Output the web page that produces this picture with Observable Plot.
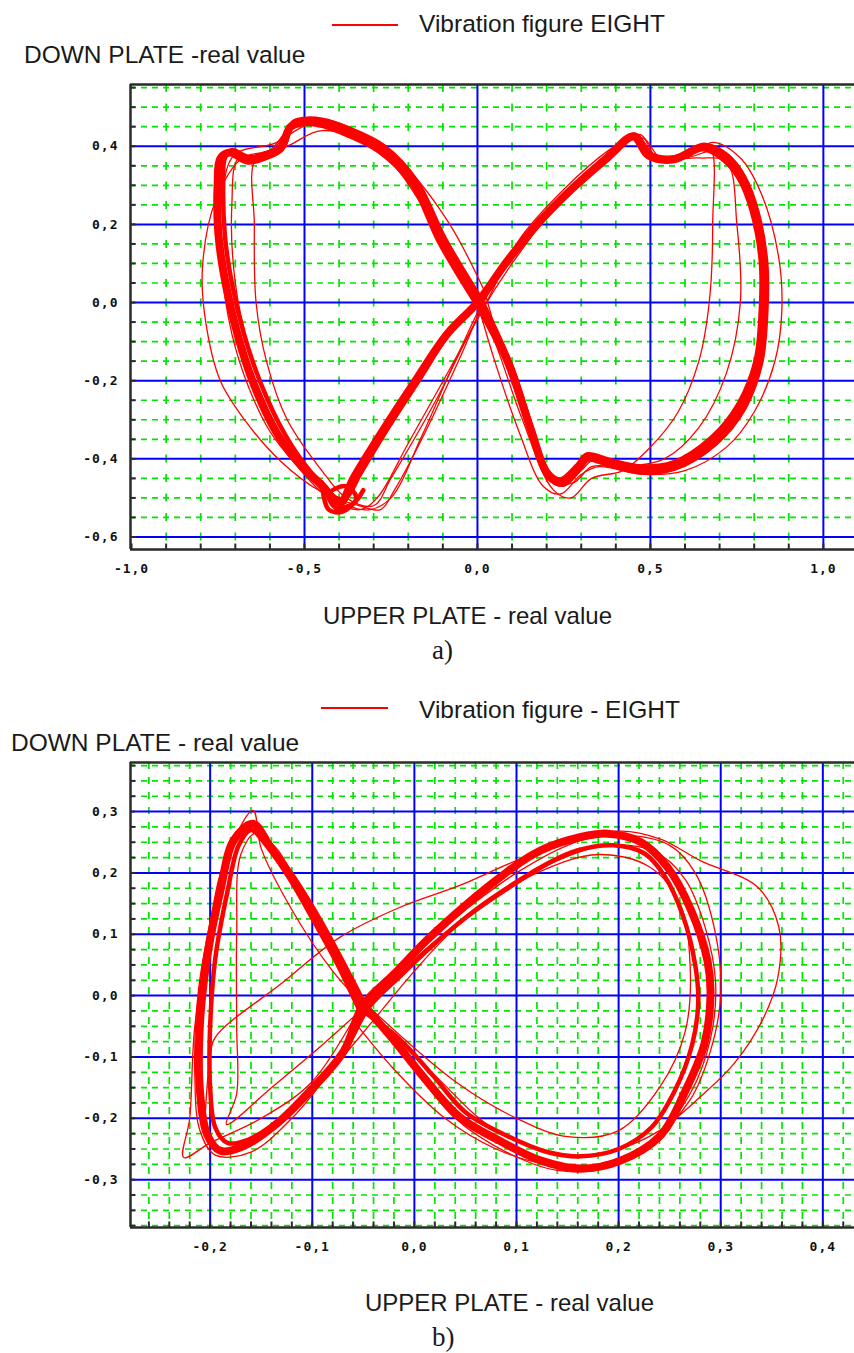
<!DOCTYPE html>
<html><head><meta charset="utf-8">
<script src="https://cdn.jsdelivr.net/npm/d3@7"></script>
<script src="https://cdn.jsdelivr.net/npm/@observablehq/plot@0.6"></script>
<style>
body{margin:0;background:#fff;width:854px;height:1353px;position:relative;overflow:hidden;font-family:"Liberation Sans",Arial,sans-serif;}
.t{position:absolute;white-space:nowrap;color:#1a1a1a;line-height:1;z-index:2;}
.lg{position:absolute;height:2px;background:#ff0000;z-index:2;}
.panel{position:absolute;left:0;z-index:1;}
.serif{font-family:"Liberation Serif","DejaVu Serif",serif;}
svg text{letter-spacing:1px;}
</style></head><body>
<div class="lg" style="left:332px;top:24px;width:66px;"></div>
<div class="t" style="left:419px;top:12px;font-size:24.5px;">Vibration figure EIGHT</div>
<div class="t" style="left:24px;top:43px;font-size:24.5px;">DOWN PLATE -real value</div>
<div class="panel" id="pa" style="top:70px;"></div>
<div class="t" style="left:323px;top:604px;font-size:24px;">UPPER PLATE - real value</div>
<div class="t serif" style="left:432px;top:637px;font-size:27px;">a)</div>

<div class="lg" style="left:321px;top:707px;width:67px;"></div>
<div class="t" style="left:419px;top:698px;font-size:24.5px;">Vibration figure - EIGHT</div>
<div class="t" style="left:11px;top:731px;font-size:24.5px;">DOWN PLATE - real value</div>
<div class="panel" id="pb" style="top:750px;"></div>
<div class="t" style="left:365px;top:1291px;font-size:24px;">UPPER PLATE - real value</div>
<div class="t serif" style="left:432px;top:1324px;font-size:27px;">b)</div>
<script>
// ---------- Panel a data (x = UPPER PLATE, y = DOWN PLATE) ----------
const xTickLabelsA = [-1.0, -0.5, 0.0, 0.5, 1.0];
const yTickLabelsA = [-0.6, -0.4, -0.2, 0.0, 0.2, 0.4];
const aMain = [[0,0],[-0.107,0.158],[-0.185,0.304],[-0.280,0.389],[-0.376,0.433],[-0.454,0.458],[-0.503,0.461],[-0.540,0.450],[-0.569,0.395],[-0.607,0.376],[-0.665,0.363],[-0.715,0.384],[-0.743,0.369],[-0.751,0.304],[-0.749,0.176],[-0.728,0.048],[-0.694,-0.080],[-0.647,-0.208],[-0.578,-0.337],[-0.503,-0.424],[-0.454,-0.465],[-0.425,-0.495],[-0.396,-0.512],[-0.358,-0.449],[-0.280,-0.337],[-0.185,-0.208],[-0.087,-0.080],[0,0],[0.087,0.107],[0.182,0.209],[0.277,0.294],[0.376,0.371],[0.451,0.425],[0.495,0.376],[0.566,0.366],[0.653,0.397],[0.711,0.371],[0.760,0.320],[0.798,0.235],[0.824,0.107],[0.824,-0.021],[0.809,-0.150],[0.760,-0.260],[0.682,-0.347],[0.566,-0.414],[0.471,-0.424],[0.376,-0.406],[0.318,-0.393],[0.292,-0.419],[0.240,-0.457],[0.202,-0.437],[0.153,-0.321],[0.087,-0.150],[0,0]];
const aMain2 = [[0.01,0.01],[-0.095,0.165],[-0.175,0.31],[-0.27,0.40],[-0.37,0.445],[-0.45,0.468],[-0.5,0.47],[-0.535,0.46],[-0.56,0.40],[-0.6,0.385],[-0.66,0.372],[-0.71,0.39],[-0.73,0.37],[-0.735,0.3],[-0.73,0.17],[-0.71,0.05],[-0.675,-0.08],[-0.625,-0.21],[-0.555,-0.34],[-0.485,-0.43],[-0.44,-0.47],[-0.41,-0.5],[-0.38,-0.5],[-0.34,-0.44],[-0.265,-0.33],[-0.17,-0.2],[-0.075,-0.07],[0.01,0.01],[0.095,0.115],[0.19,0.215],[0.285,0.3],[0.38,0.378],[0.455,0.43],[0.5,0.38],[0.57,0.372],[0.655,0.404],[0.72,0.378],[0.772,0.32],[0.81,0.23],[0.835,0.1],[0.835,-0.025],[0.82,-0.155],[0.772,-0.27],[0.69,-0.36],[0.57,-0.425],[0.47,-0.434],[0.375,-0.415],[0.32,-0.402],[0.292,-0.43],[0.245,-0.466],[0.205,-0.445],[0.16,-0.33],[0.095,-0.155],[0.01,0.01]];
const aKnot = [[-0.45,-0.46],[-0.43,-0.53],[-0.39,-0.535],[-0.35,-0.5],[-0.38,-0.47],[-0.43,-0.49],[-0.41,-0.525],[-0.36,-0.515],[-0.33,-0.48]];
const aThin1 = [[0,0],[-0.1,0.17],[-0.2,0.31],[-0.3,0.4],[-0.4,0.45],[-0.5,0.465],[-0.55,0.44],[-0.6,0.39],[-0.68,0.37],[-0.757,0.261],[-0.795,0.089],[-0.786,-0.047],[-0.743,-0.201],[-0.671,-0.303],[-0.569,-0.406],[-0.454,-0.483],[-0.338,-0.521],[-0.28,-0.53],[-0.24,-0.48],[-0.15,-0.33],[-0.05,-0.14],[0.03,0.02],[0.12,0.14],[0.22,0.25],[0.33,0.34],[0.45,0.42],[0.5,0.38],[0.6,0.37],[0.68,0.41],[0.76,0.37],[0.82,0.28],[0.87,0.12],[0.88,-0.02],[0.86,-0.15],[0.8,-0.28],[0.72,-0.37],[0.6,-0.43],[0.48,-0.44],[0.35,-0.42],[0.3,-0.44],[0.24,-0.49],[0.19,-0.47],[0.12,-0.33],[0.05,-0.15],[0,0]];
const aThin2 = [[0,0],[-0.15,0.25],[-0.3,0.4],[-0.45,0.44],[-0.55,0.40],[-0.64,0.37],[-0.645,0.2],[-0.64,0.0],[-0.61,-0.15],[-0.55,-0.3],[-0.45,-0.43],[-0.38,-0.5],[-0.3,-0.52],[-0.25,-0.45],[-0.12,-0.25],[0,-0.04],[0.1,0.1],[0.25,0.27],[0.4,0.38],[0.47,0.43],[0.52,0.37],[0.6,0.37],[0.67,0.4],[0.68,0.2],[0.67,0.0],[0.64,-0.15],[0.58,-0.28],[0.5,-0.37],[0.42,-0.43],[0.33,-0.45],[0.27,-0.5],[0.22,-0.48],[0.13,-0.3],[0.05,-0.1],[0,0]];
const aThin3 = [[0.02,0.03],[-0.08,0.2],[-0.2,0.34],[-0.33,0.43],[-0.45,0.47],[-0.52,0.46],[-0.58,0.41],[-0.7,0.38],[-0.735,0.3],[-0.74,0.1],[-0.71,-0.08],[-0.66,-0.22],[-0.6,-0.33],[-0.52,-0.42],[-0.43,-0.5],[-0.34,-0.53],[-0.29,-0.5],[-0.2,-0.36],[-0.08,-0.17],[0.02,-0.01],[0.12,0.16],[0.25,0.29],[0.38,0.39],[0.46,0.43],[0.51,0.38],[0.6,0.37],[0.7,0.39],[0.77,0.33],[0.81,0.2],[0.83,0.05],[0.82,-0.1],[0.78,-0.23],[0.7,-0.34],[0.58,-0.41],[0.45,-0.43],[0.34,-0.4],[0.3,-0.43],[0.25,-0.47],[0.2,-0.45],[0.14,-0.3],[0.08,-0.15],[0.02,0.03]];
const aThin4 = [[0,0.01],[-0.12,0.19],[-0.24,0.35],[-0.36,0.44],[-0.47,0.46],[-0.56,0.42],[-0.62,0.37],[-0.69,0.37],[-0.71,0.25],[-0.7,0.05],[-0.66,-0.12],[-0.6,-0.27],[-0.52,-0.39],[-0.44,-0.47],[-0.37,-0.52],[-0.31,-0.53],[-0.25,-0.5],[-0.16,-0.34],[-0.06,-0.14],[0.05,0.06],[0.16,0.2],[0.3,0.32],[0.42,0.41],[0.48,0.42],[0.53,0.37],[0.64,0.37],[0.72,0.36],[0.75,0.2],[0.76,0.0],[0.72,-0.18],[0.64,-0.32],[0.54,-0.4],[0.42,-0.42],[0.33,-0.42],[0.28,-0.46],[0.23,-0.46],[0.16,-0.33],[0.07,-0.12],[0,0.01]];

// ---------- Panel b data ----------
const xTickLabelsB = [-0.2, -0.1, 0.0, 0.1, 0.2, 0.3, 0.4];
const yTickLabelsB = [-0.3, -0.2, -0.1, 0.0, 0.1, 0.2, 0.3];
const bMain = [[-0.05,-0.015],[-0.069,0.046],[-0.092,0.117],[-0.118,0.188],[-0.141,0.242],[-0.158,0.28],[-0.177,0.253],[-0.19,0.171],[-0.203,0.062],[-0.21,-0.046],[-0.21,-0.155],[-0.203,-0.226],[-0.19,-0.253],[-0.167,-0.245],[-0.135,-0.209],[-0.102,-0.155],[-0.069,-0.09],[-0.05,-0.015],[-0.02,0.035],[0.012,0.09],[0.052,0.15],[0.084,0.193],[0.117,0.231],[0.15,0.253],[0.189,0.264],[0.222,0.25],[0.248,0.209],[0.271,0.139],[0.287,0.057],[0.29,0.003],[0.284,-0.079],[0.264,-0.16],[0.241,-0.228],[0.202,-0.269],[0.163,-0.282],[0.124,-0.269],[0.084,-0.237],[0.045,-0.199],[0.012,-0.139],[-0.02,-0.073],[-0.05,-0.015]];
const bMain2 = [[-0.055,-0.02],[-0.075,0.05],[-0.098,0.12],[-0.122,0.19],[-0.145,0.245],[-0.16,0.27],[-0.172,0.245],[-0.183,0.17],[-0.195,0.06],[-0.2,-0.05],[-0.2,-0.15],[-0.195,-0.215],[-0.183,-0.24],[-0.163,-0.235],[-0.13,-0.2],[-0.095,-0.145],[-0.065,-0.08],[-0.045,-0.02],[-0.015,0.03],[0.02,0.085],[0.06,0.14],[0.095,0.18],[0.13,0.215],[0.16,0.237],[0.195,0.245],[0.225,0.232],[0.245,0.195],[0.263,0.13],[0.275,0.05],[0.278,-0.01],[0.272,-0.08],[0.255,-0.155],[0.232,-0.215],[0.2,-0.25],[0.163,-0.262],[0.13,-0.255],[0.09,-0.228],[0.05,-0.19],[0.018,-0.13],[-0.015,-0.07],[-0.055,-0.02]];
const bThin1 = [[-0.05,-0.01],[0.0,0.07],[0.05,0.14],[0.1,0.2],[0.15,0.245],[0.2,0.268],[0.241,0.255],[0.28,0.22],[0.336,0.177],[0.357,0.111],[0.356,0.03],[0.342,-0.036],[0.313,-0.111],[0.28,-0.165],[0.24,-0.22],[0.2,-0.25],[0.15,-0.26],[0.08,-0.22],[0.02,-0.13],[-0.03,-0.05],[-0.08,0.04],[-0.12,0.14],[-0.15,0.24],[-0.158,0.302],[-0.18,0.24],[-0.2,0.1],[-0.215,-0.05],[-0.22,-0.2],[-0.226,-0.264],[-0.2,-0.24],[-0.15,-0.2],[-0.1,-0.14],[-0.05,-0.01]];
const bThin2 = [[-0.205,-0.2],[-0.2,-0.1],[-0.195,-0.068],[-0.13,0.02],[-0.073,0.095],[-0.014,0.144],[0.045,0.18],[0.1,0.22],[0.15,0.248],[0.2,0.262],[0.25,0.245],[0.275,0.2],[0.295,0.1],[0.3,0.0],[0.29,-0.09],[0.27,-0.17],[0.23,-0.24],[0.18,-0.275],[0.13,-0.275],[0.08,-0.25],[0.03,-0.2],[-0.02,-0.12],[-0.06,-0.04]];
const bThin3 = [[-0.05,-0.01],[-0.09,0.1],[-0.13,0.21],[-0.155,0.265],[-0.17,0.23],[-0.174,0.1],[-0.174,-0.05],[-0.174,-0.16],[-0.184,-0.21],[-0.14,-0.15],[-0.09,-0.08],[-0.05,-0.02],[0.0,0.06],[0.06,0.14],[0.12,0.2],[0.18,0.23],[0.23,0.21],[0.26,0.15],[0.27,0.05],[0.265,-0.06],[0.24,-0.15],[0.2,-0.22],[0.15,-0.23],[0.1,-0.2],[0.04,-0.14],[-0.05,-0.01]];
const bThin4 = [[-0.045,-0.02],[-0.075,0.06],[-0.105,0.15],[-0.135,0.24],[-0.16,0.27],[-0.185,0.22],[-0.2,0.12],[-0.212,0.0],[-0.215,-0.13],[-0.21,-0.22],[-0.195,-0.26],[-0.16,-0.255],[-0.12,-0.2],[-0.08,-0.12],[-0.04,-0.04],[0.0,0.04],[0.04,0.11],[0.09,0.17],[0.14,0.22],[0.19,0.245],[0.235,0.235],[0.265,0.19],[0.285,0.11],[0.295,0.02],[0.29,-0.07],[0.27,-0.16],[0.235,-0.235],[0.19,-0.28],[0.14,-0.285],[0.09,-0.255],[0.04,-0.2],[0.0,-0.12],[-0.045,-0.02]];

// ---------- helpers ----------
const RED = "#ff0000", GREEN = "#00e600", BLUE = "#0000ff", AX = "#2a2a2a";
const fmt = d => d.toFixed(1).replace(".", ",");
const toRows = (list) => list.flatMap(([id, pts]) => pts.map(([x, y]) => ({id, x, y})));
function idxRange(a, b) { const r = []; for (let i = a; i <= b; i++) r.push(i); return r; }

function panel({xDomain, yDomain, height, marginTop, xTickLabels, yTickLabels,
                minorX, minorY, majorX, majorY, tickX, tickY, tickLenX, tickLenY,
                thick, mid, thin, vDash, hDash}) {
  const [x0] = xDomain, [y0, y1] = yDomain;
  return Plot.plot({
    width: 854, height, marginTop, marginBottom: height - marginTop - 465, marginLeft: 130, marginRight: 0,
    x: {domain: xDomain}, y: {domain: yDomain},
    style: {background: "transparent", fontFamily: "'DejaVu Sans Mono', monospace", fontWeight: "bold", fontSize: "13px", color: "#111"},
    marks: [
      Plot.ruleY(minorY, {stroke: GREEN, strokeWidth: 1.7, strokeDasharray: hDash}),
      Plot.ruleX(minorX, {stroke: GREEN, strokeWidth: 1.7, strokeDasharray: vDash}),
      Plot.ruleY(majorY, {stroke: BLUE, strokeWidth: 2}),
      Plot.ruleX(majorX, {stroke: BLUE, strokeWidth: 2}),
      Plot.line(toRows(thin), {x: "x", y: "y", z: "id", stroke: RED, strokeWidth: 1.3, curve: "catmull-rom"}),
      Plot.line(toRows(thick), {x: "x", y: "y", z: "id", stroke: RED, strokeWidth: 8, curve: "catmull-rom", strokeLinejoin: "round"}),
      Plot.line(toRows(mid), {x: "x", y: "y", z: "id", stroke: RED, strokeWidth: 4.5, curve: "catmull-rom", strokeLinejoin: "round"}),
      Plot.ruleX(tickX, {y1: y0, y2: y0 + tickLenX, stroke: AX, strokeWidth: 2}),
      Plot.ruleY(tickY, {x1: x0, x2: x0 + tickLenY, stroke: AX, strokeWidth: 2}),
      Plot.ruleX([x0], {stroke: AX, strokeWidth: 2.5}),
      Plot.ruleY([y0, y1], {stroke: AX, strokeWidth: 2.5}),
      Plot.axisX(xTickLabels, {tickSize: 0, tickPadding: 14, tickFormat: fmt, label: null}),
      Plot.axisY(yTickLabels, {tickSize: 0, tickPadding: 12, tickFormat: fmt, label: null})
    ]
  });
}

const pa = panel({
  xDomain: [-1.003, 1.09], yDomain: [-0.632, 0.558], height: 518, marginTop: 14,
  xTickLabels: xTickLabelsA, yTickLabels: yTickLabelsA,
  minorX: idxRange(-9, 10).filter(i => i % 5 !== 0).map(i => i / 10),
  minorY: idxRange(-12, 11).filter(i => i % 4 !== 0).map(i => i / 20),
  majorX: [-0.5, 0, 0.5, 1.0], majorY: [-0.6, -0.4, -0.2, 0, 0.2, 0.4],
  tickX: idxRange(-10, 10).map(i => i / 10), tickY: idxRange(-12, 11).map(i => i / 20),
  tickLenX: 0.014, tickLenY: 0.016,
  thick: [["m", aMain]], mid: [["m2", aMain2], ["k", aKnot]],
  thin: [["t1", aThin1], ["t2", aThin2], ["t3", aThin3], ["t4", aThin4]],
  vDash: "8,11.5", hDash: "6,5"
});
document.getElementById("pa").append(pa);

const pb = panel({
  xDomain: [-0.278, 0.431], yDomain: [-0.378, 0.380], height: 517, marginTop: 12,
  xTickLabels: xTickLabelsB, yTickLabels: yTickLabelsB,
  minorX: idxRange(-13, 21).filter(i => i % 5 !== 0).map(i => i / 50),
  minorY: idxRange(-15, 15).filter(i => i % 4 !== 0).map(i => i / 40),
  majorX: [-0.2, -0.1, 0, 0.1, 0.2, 0.3, 0.4], majorY: [-0.3, -0.2, -0.1, 0, 0.1, 0.2, 0.3],
  tickX: idxRange(-13, 21).map(i => i / 50), tickY: idxRange(-15, 15).map(i => i / 40),
  tickLenX: 0.009, tickLenY: 0.005,
  thick: [["m", bMain]], mid: [["m2", bMain2]],
  thin: [["t1", bThin1], ["t2", bThin2], ["t3", bThin3], ["t4", bThin4]],
  vDash: "7,8", hDash: "6,5"
});
document.getElementById("pb").append(pb);
</script>
</body></html>
